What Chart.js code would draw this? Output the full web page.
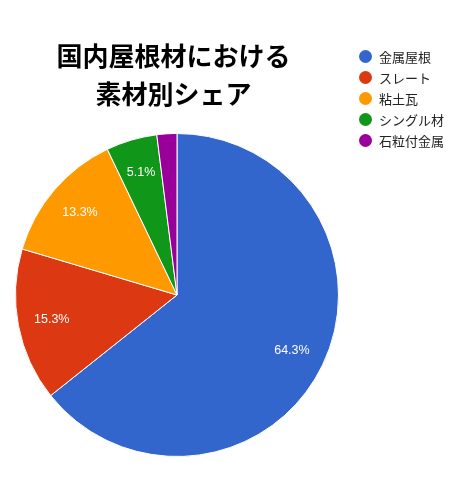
<!DOCTYPE html>
<html>
<head>
<meta charset="utf-8">
<script src="https://cdn.jsdelivr.net/npm/chart.js@4/dist/chart.umd.min.js"></script>
<style>
  html, body { margin:0; padding:0; background:#fff; }
  #wrap { position:relative; width:468px; height:495px; overflow:hidden; }
  #c { position:absolute; left:0; top:0; }
  #title { position:absolute; left:0; width:347px; top:36px; text-align:center;
    font-family:"Noto Sans CJK JP", sans-serif; font-weight:bold; font-size:26px;
    line-height:38px; color:#000; }
  #legend { position:absolute; left:359px; top:46px; font-family:"Noto Sans CJK JP", sans-serif;
    font-size:13px; color:#222; }
  .li { height:21px; line-height:21px; display:flex; align-items:center; white-space:nowrap; }
  .dot { width:13px; height:13px; border-radius:50%; margin-right:7px; flex:none; }
</style>
</head>
<body>
<div id="wrap">
  <canvas id="c" width="468" height="495"></canvas>
  <div id="title"></div>
  <div id="legend"></div>
</div>
<script>
const titleLines = ["国内屋根材における", "素材別シェア"];
const categories = ["金属屋根", "スレート", "粘土瓦", "シングル材", "石粒付金属"];
const shares = [64.3, 15.3, 13.3, 5.1, 2.0];
const colors = ["#3366CC", "#DC3912", "#FF9900", "#109618", "#990099"];

document.getElementById('title').innerHTML = titleLines.join('<br>');
const lg = document.getElementById('legend');
categories.forEach((c, i) => {
  const d = document.createElement('div');
  d.className = 'li';
  d.innerHTML = '<span class="dot" style="background:' + colors[i] + '"></span><span>' + c + '</span>';
  lg.appendChild(d);
});

const sliceLabels = {
  id: 'sliceLabels',
  afterDatasetsDraw(chart) {
    const ctx = chart.ctx;
    const meta = chart.getDatasetMeta(0);
    ctx.save();
    ctx.fillStyle = '#fff';
    ctx.font = '12.5px "Liberation Sans", Arial, sans-serif';
    ctx.textAlign = 'center';
    ctx.textBaseline = 'middle';
    meta.data.forEach((arc, i) => {
      const v = shares[i];
      if (v < 4) return;
      const p = arc.getProps(['x', 'y', 'startAngle', 'endAngle', 'outerRadius'], true);
      const mid = (p.startAngle + p.endAngle) / 2;
      const r = p.outerRadius * 0.79;
      ctx.fillText(v.toFixed(1) + '%', p.x + Math.cos(mid) * r, p.y + Math.sin(mid) * r);
    });
    ctx.restore();
  }
};

new Chart(document.getElementById('c'), {
  type: 'pie',
  data: {
    labels: categories,
    datasets: [{ data: shares, backgroundColor: colors, borderColor: '#fff', borderWidth: 1 }]
  },
  options: {
    responsive: false,
    animation: false,
    layout: { padding: { left: 15, right: 129, top: 133, bottom: 38 } },
    plugins: { legend: { display: false }, title: { display: false }, tooltip: { enabled: false } }
  },
  plugins: [sliceLabels]
});
</script>
</body>
</html>
